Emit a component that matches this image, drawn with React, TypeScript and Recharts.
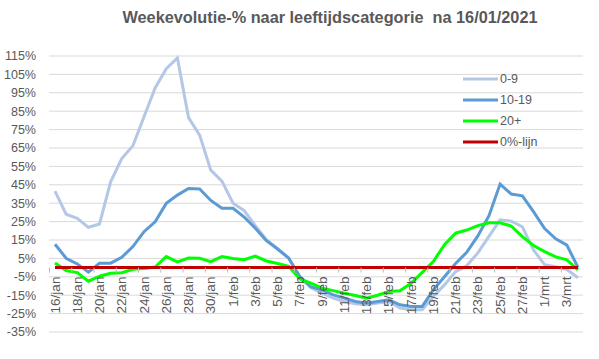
import React from "react";
import {
  CartesianGrid,
  Legend,
  Line,
  LineChart,
  XAxis,
  YAxis,
} from "recharts";

// dates shown on the category axis (16/jan .. 4/mrt)
const dates = [
  "16/jan", "17/jan", "18/jan", "19/jan", "20/jan", "21/jan", "22/jan", "23/jan",
  "24/jan", "25/jan", "26/jan", "27/jan", "28/jan", "29/jan", "30/jan", "31/jan",
  "1/feb", "2/feb", "3/feb", "4/feb", "5/feb", "6/feb", "7/feb", "8/feb",
  "9/feb", "10/feb", "11/feb", "12/feb", "13/feb", "14/feb", "15/feb", "16/feb",
  "17/feb", "18/feb", "19/feb", "20/feb", "21/feb", "22/feb", "23/feb", "24/feb",
  "25/feb", "26/feb", "27/feb", "28/feb", "1/mrt", "2/mrt", "3/mrt", "4/mrt",
];

// weekly change in %, per age group
const age0to9 = [
  41.6, 29, 26.8, 21.9, 23.7, 46.6, 59.3, 66.2, 82, 97.6, 108.1, 113.9,
  81.5, 72, 53, 47, 35, 31, 22.8, 15.2, 10.3, 5.4, -5.2, -11,
  -13.9, -16.6, -18.4, -19.7, -20.2, -19.3, -18.4, -22, -22.9, -22.9, -15.7, -9.4,
  -2.2, 1, 8, 17, 25.9, 25.2, 22.2, 9.6, 1.6, 0.5, -1, -5.5,
];
const age10to19 = [
  12.7, 5.1, 2, -2.5, 2.4, 2.4, 5.6, 11.4, 19.5, 24.9, 34.9, 39.4,
  43, 42.7, 36.5, 32.3, 32.2, 27.5, 21.4, 14.6, 10.1, 5.1, -4.9, -10.5,
  -12.1, -14.8, -16.6, -18.4, -19.3, -18.4, -17.5, -20.2, -21.1, -21.1, -12.1, -5,
  2.2, 8.3, 17.2, 28.2, 45.4, 40, 39, 30.4, 21.2, 15.6, 12.2, 0.1,
];
const age20plus = [
  2.5, -1.6, -2.7, -7.4, -4.7, -3.1, -2.8, -0.9, -0.5, 0.3, 6, 3.1,
  5.2, 5.1, 3.2, 6, 4.9, 4.3, 6.3, 3.6, 2.2, 0.7, -6.2, -8.5,
  -11.2, -12.5, -13.9, -15.2, -16.6, -15, -13, -12.6, -8.5, -2.6, 3.3, 12.5,
  18.7, 20.4, 22.8, 24.4, 24.4, 22.6, 16.8, 12, 8.7, 5.8, 4.2, -1.2,
];
const zeroLine = [
  0, 0, 0, 0, 0, 0, 0, 0, 0, 0, 0, 0, 0, 0, 0, 0, 0, 0, 0, 0, 0, 0, 0, 0,
  0, 0, 0, 0, 0, 0, 0, 0, 0, 0, 0, 0, 0, 0, 0, 0, 0, 0, 0, 0, 0, 0, 0, 0,
];
const yTicks = [-35, -25, -15, -5, 5, 15, 25, 35, 45, 55, 65, 75, 85, 95, 105, 115];
const seriesNames = ["0-9", "10-19", "20+", "0%-lijn"];

const data = dates.map((date, i) => ({
  date,
  a: age0to9[i],
  b: age10to19[i],
  c: age20plus[i],
  z: zeroLine[i],
}));

const W = 599;
const H = 359;
const TOP = 56;
const X_AXIS_H = 27;
const Y_MIN = -35;
const Y_MAX = 115;
const PLOT_H = H - TOP - X_AXIS_H;
// the category axis crosses at 0%, so labels hang from there
const ZERO_UP = (PLOT_H * (0 - Y_MIN)) / (Y_MAX - Y_MIN);

const FONT = "'Liberation Sans', Arial, sans-serif";
const GREY = "#595959";

function DateTick(props: any) {
  const { x, y, payload } = props;
  const zy = y - ZERO_UP;
  return (
    <g>
      <line x1={x - 5.5} x2={x - 5.5} y1={zy} y2={zy + 5} stroke="#bfbfbf" />
      <text
        transform={`translate(${x},${zy + 9}) rotate(-90)`}
        textAnchor="end"
        dominantBaseline="central"
        fill={GREY}
        fontSize={13.5}
        fontFamily={FONT}
      >
        {payload.value}
      </text>
    </g>
  );
}

function LegendBox(props: any) {
  const items = [...(props.payload || [])].sort(
    (p: any, q: any) => seriesNames.indexOf(p.value) - seriesNames.indexOf(q.value)
  );
  return (
    <div style={{ fontFamily: FONT, fontSize: 12.5, color: GREY }}>
      {items.map((item: any) => (
        <div
          key={item.value}
          style={{ display: "flex", alignItems: "center", height: 21 }}
        >
          <svg width={35} height={4}>
            <line x1={0} x2={35} y1={2} y2={2} stroke={item.color} strokeWidth={3} />
          </svg>
          <span style={{ marginLeft: 2 }}>{item.value}</span>
        </div>
      ))}
    </div>
  );
}

export default function App() {
  return (
    <div style={{ position: "absolute", left: 0, top: 0, width: W, height: H, background: "#fff" }}>
      <div
        style={{
          position: "absolute",
          left: 0,
          top: 8,
          width: 660,
          textAlign: "center",
          fontFamily: FONT,
          fontWeight: "bold",
          fontSize: 16.3,
          color: GREY,
        }}
      >
        Weekevolutie-% naar leeftijdscategorie&nbsp; na 16/01/2021
      </div>
      <LineChart
        width={W}
        height={H}
        data={data}
        margin={{ top: TOP, right: 16, bottom: 0, left: 0 }}
      >
        <CartesianGrid horizontal vertical={false} stroke="#d9d9d9" />
        <XAxis
          dataKey="date"
          interval={1}
          height={X_AXIS_H}
          padding={{ left: 6, right: 5 }}
          axisLine={false}
          tickLine={false}
          tickSize={0}
          tickMargin={0}
          tick={<DateTick />}
        />
        <YAxis
          domain={[Y_MIN, Y_MAX]}
          ticks={yTicks}
          interval={0}
          width={49}
          axisLine={false}
          tickLine={false}
          tickSize={0}
          tickMargin={13}
          tickFormatter={(v: number) => `${v}%`}
          tick={{ fill: GREY, fontSize: 12.5, fontFamily: FONT }}
        />
        <Legend
          layout="vertical"
          align="center"
          verticalAlign="middle"
          wrapperStyle={{ left: 463, top: 68, width: 120 }}
          content={<LegendBox />}
        />
        <Line type="linear" dataKey="a" name="0-9" stroke="#b4c7e7" strokeWidth={3} dot={false} isAnimationActive={false} />
        <Line type="linear" dataKey="b" name="10-19" stroke="#5b9bd5" strokeWidth={3} dot={false} isAnimationActive={false} />
        <Line type="linear" dataKey="c" name="20+" stroke="#00ff00" strokeWidth={3} dot={false} isAnimationActive={false} />
        <Line type="linear" dataKey="z" name="0%-lijn" stroke="#c00000" strokeWidth={3} dot={false} isAnimationActive={false} />
      </LineChart>
    </div>
  );
}
